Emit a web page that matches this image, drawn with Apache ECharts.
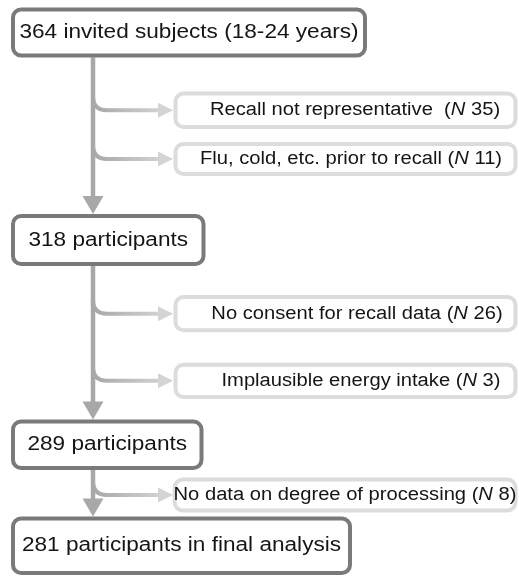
<!DOCTYPE html>
<html>
<head>
<meta charset="utf-8">
<script src="https://cdn.jsdelivr.net/npm/echarts@6/dist/echarts.min.js"></script>
<style>
  html, body { margin: 0; padding: 0; background: #fff; }
  #chart { width: 519px; height: 579px; }
</style>
</head>
<body>
<div id="chart"></div>
<script>
// Flow stages (main column) and the exclusions that branch off them
const stageLabels = [
  '364 invited subjects (18-24 years)',
  '318 participants',
  '289 participants',
  '281 participants in final analysis'
]
const exclusionReasons = [
  'Recall not representative  (',
  'Flu, cold, etc. prior to recall (',
  'No consent for recall data (',
  'Implausible energy intake (',
  'No data on degree of processing ('
]
const exclusionN = [35, 11, 26, 3, 8]
const exclusionFrom = [0, 0, 1, 1, 2]

// Layout, in chart units (axes span the canvas 1:1)
const stageBox = [
  [13, 9.5, 365, 55.5],
  [13, 216, 203.5, 264],
  [13, 421.5, 201.5, 468],
  [13, 518.5, 350, 573]
]
const exclBox = [
  [175.5, 93.5, 515.5, 127],
  [175.5, 144, 515.5, 174],
  [175.5, 297, 515.5, 330.3],
  [175.5, 364.7, 515.5, 397],
  [174.7, 479.5, 515.5, 510.5]
]
const exclTextX = [355, 351, 357, 361, 345]
const trunkX = 93

const FONT = '"Liberation Sans", Arial, Helvetica, sans-serif'
const TRUNK = '#a8a8a8'
const LIGHT = '#d9d9d9'

const chart = echarts.init(document.getElementById('chart'), null, { renderer: 'canvas' })

const pt = (api, x, y) => api.coord([x, y])

function rectOf(api, b) {
  const p0 = pt(api, b[0], b[1])
  const p1 = pt(api, b[2], b[3])
  return {
    x: Math.min(p0[0], p1[0]), y: Math.min(p0[1], p1[1]),
    width: Math.abs(p1[0] - p0[0]), height: Math.abs(p1[1] - p0[1]), r: 8
  }
}

// vertical trunk segments + arrowheads between stages
function renderTrunk(params, api) {
  const i = api.value(0)
  const from = stageBox[i][3] + 2
  const tip = stageBox[i + 1][1] - 2
  const a = pt(api, trunkX, from)
  const b = pt(api, trunkX, tip - 18)
  const t = pt(api, trunkX, tip)
  return {
    type: 'group',
    children: [
      { type: 'line', shape: { x1: a[0], y1: a[1], x2: b[0], y2: b[1] + 1 },
        style: { stroke: TRUNK, lineWidth: 4.5 } },
      { type: 'polygon', shape: { points: [[b[0] - 10.5, b[1]], [b[0] + 10.5, b[1]], [t[0], t[1]]] },
        style: { fill: TRUNK } }
    ]
  }
}

// curved branch + arrow + exclusion box
function renderExclusion(params, api) {
  const i = api.value(0)
  const b = exclBox[i]
  const cy = (b[1] + b[3]) / 2
  const s = pt(api, trunkX, cy - 14)
  const c = pt(api, trunkX, cy)
  const e = pt(api, trunkX + 14, cy)
  const h = pt(api, 159, cy)
  const tip = pt(api, 173, cy)
  const grad = new echarts.graphic.LinearGradient(c[0], 0, tip[0], 0,
    [{ offset: 0, color: TRUNK }, { offset: 1, color: LIGHT }], true)
  const tc = pt(api, exclTextX[i], cy)
  return {
    type: 'group',
    children: [
      { type: 'bezierCurve', shape: { x1: s[0], y1: s[1], cpx1: c[0], cpy1: c[1], x2: e[0], y2: e[1] },
        style: { stroke: grad, lineWidth: 4, fill: null } },
      { type: 'line', shape: { x1: e[0], y1: e[1], x2: h[0], y2: h[1] },
        style: { stroke: grad, lineWidth: 4 } },
      { type: 'polygon', shape: { points: [[h[0] - 1, h[1] - 7.5], [tip[0], tip[1]], [h[0] - 1, h[1] + 7.5]] },
        style: { fill: '#d4d4d4' } },
      { type: 'rect', shape: rectOf(api, b),
        style: { fill: '#fff', stroke: '#dcdcdc', lineWidth: 4 } },
      { type: 'text', x: tc[0], y: tc[1], scaleX: 1.12,
        style: {
          text: '{t|' + exclusionReasons[i] + '}{i|N}{t| ' + exclusionN[i] + ')}',
          align: 'center', verticalAlign: 'middle',
          rich: {
            t: { fontSize: 18, fontFamily: FONT, fill: '#151515' },
            i: { fontSize: 18, fontFamily: FONT, fontStyle: 'italic', fill: '#151515' }
          }
        } }
    ]
  }
}

// main stage boxes
function renderStage(params, api) {
  const i = api.value(0)
  const r = rectOf(api, stageBox[i])
  return {
    type: 'group',
    children: [
      { type: 'rect', shape: r, style: { fill: '#fff', stroke: '#7a7a7a', lineWidth: 4 } },
      { type: 'text', x: r.x + r.width / 2, y: r.y + r.height / 2, scaleX: 1.13,
        style: {
          text: stageLabels[i], fontSize: 20, fontFamily: FONT, fill: '#151515',
          align: 'center', verticalAlign: 'middle'
        } }
    ]
  }
}

const option = {
  animation: false,
  grid: { left: 0, right: 0, top: 0, bottom: 0 },
  xAxis: { type: 'value', min: 0, max: 519, show: false },
  yAxis: { type: 'value', min: 0, max: 579, inverse: true, show: false },
  series: [
    { type: 'custom', silent: true, renderItem: renderTrunk,
      data: stageLabels.slice(1).map((_, i) => [i]) },
    { type: 'custom', silent: true, renderItem: renderExclusion,
      data: exclusionN.map((_, i) => [i]) },
    { type: 'custom', silent: true, renderItem: renderStage,
      data: stageLabels.map((_, i) => [i]) }
  ]
}

chart.setOption(option)
</script>
</body>
</html>
